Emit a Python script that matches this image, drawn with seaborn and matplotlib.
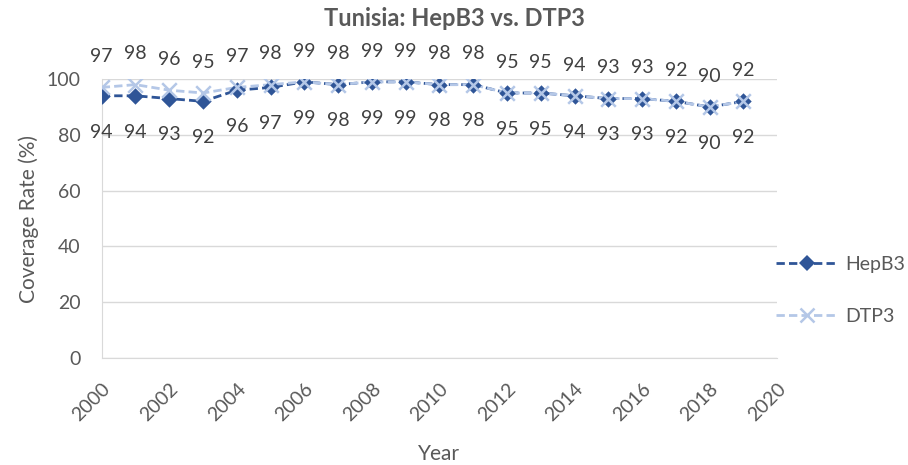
import pandas as pd
import numpy as np
import matplotlib.pyplot as plt
import seaborn as sns
from matplotlib.lines import Line2D

years = list(range(2000, 2020))
hepb3 = [94, 94, 93, 92, 96, 97, 99, 98, 99, 99, 98, 98, 95, 95, 94, 93, 93, 92, 90, 92]
dtp3 = [97, 98, 96, 95, 97, 98, 99, 98, 99, 99, 98, 98, 95, 95, 94, 93, 93, 92, 90, 92]

sns.set_style('white')
plt.rcParams['font.family'] = ['Lato', 'DejaVu Sans']

df = pd.DataFrame({'Year': years, 'HepB3': hepb3, 'DTP3': dtp3})

fig = plt.figure(figsize=(9.08, 4.65), dpi=100)
ax = fig.add_axes([0.112, 0.23, 0.744, 0.60])

dark = '#2F5597'
light = '#B4C7E7'
dash = (0, (3, 1.5))

# lines first, markers drawn separately so they are not dashed
sns.lineplot(data=df, x='Year', y='HepB3', color=dark, linestyle=dash, linewidth=2, ax=ax)
sns.scatterplot(data=df, x='Year', y='HepB3', color=dark, marker='D', s=70,
                edgecolor=dark, linewidth=0, ax=ax, zorder=3)
sns.lineplot(data=df, x='Year', y='DTP3', color=light, linestyle=dash, linewidth=2, ax=ax)
sns.scatterplot(data=df, x='Year', y='DTP3', color=light, marker='x', s=110,
                linewidth=1.8, ax=ax, zorder=4)

for x, h, d in zip(years, hepb3, dtp3):
    ax.annotate(str(h), (x, h), xytext=(0, -20), textcoords='offset points',
                ha='center', va='top', fontsize=14, color='#404040')
    ax.annotate(str(d), (x, d), xytext=(0, 16), textcoords='offset points',
                ha='center', va='bottom', fontsize=14, color='#404040')

ax.set_xlim(2000, 2020)
ax.set_ylim(0, 100)
ax.set_xticks(range(2000, 2021, 2))
ax.set_yticks(range(0, 101, 20))
ax.tick_params(axis='x', labelrotation=45, labelsize=14, colors='#595959', length=0, pad=16)
ax.tick_params(axis='y', labelsize=14, colors='#595959', length=0, pad=15)
for lbl in ax.get_xticklabels():
    lbl.set_ha('right')
    lbl.set_rotation_mode('anchor')
ax.yaxis.grid(True, color='#D9D9D9', linewidth=1)
ax.set_axisbelow(True)
for s in ['top', 'right']:
    ax.spines[s].set_visible(False)
ax.spines['bottom'].set_color('#D9D9D9')
ax.spines['left'].set_color('#D9D9D9')

ax.set_xlabel('Year', fontsize=15, color='#595959', labelpad=14)
ax.set_ylabel('Coverage Rate (%)', fontsize=15, color='#595959', labelpad=6)
fig.text(0.5, 0.96, 'Tunisia: HepB3 vs. DTP3', ha='center', va='center',
         fontsize=17, fontweight='bold', color='#595959')

handles = [Line2D([], [], color=dark, linestyle=dash, linewidth=2, marker='D', markersize=8, markeredgewidth=0),
           Line2D([], [], color=light, linestyle=dash, linewidth=2, marker='x', markersize=10, markeredgewidth=1.8)]
leg = fig.legend(handles, ['HepB3', 'DTP3'], loc='center left', bbox_to_anchor=(0.835, 0.375),
                 frameon=False, fontsize=14, labelspacing=1.8, handlelength=3.2,
                 handletextpad=0.4, labelcolor='#595959')

fig.savefig('out.png', dpi=100)
